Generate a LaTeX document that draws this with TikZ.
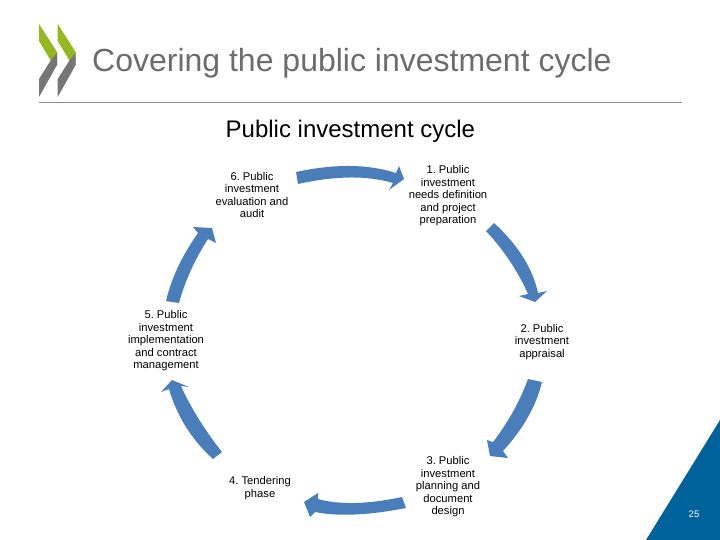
\documentclass[tikz,border=0pt]{standalone}
\usepackage{fontspec}
\usetikzlibrary{calc}
\setmainfont{Liberation Sans}
\frenchspacing
\definecolor{arrowblue}{HTML}{4A7EBB}
\definecolor{oecdgreen}{HTML}{94B81E}
\definecolor{oecdgray}{HTML}{767676}
\definecolor{titlegray}{HTML}{6C6C6C}
\definecolor{cornerblue}{HTML}{00629B}
\tikzset{
  cyclearrow/.style={fill=arrowblue,draw=none},
  stagelabel/.style={align=center,inner sep=0pt,text=black,font=\fontsize{11.2}{12.5}\selectfont},
  logogreen/.style={fill=oecdgreen,draw=none},
  logogray/.style={fill=oecdgray,draw=none}
}
\begin{document}
\begin{tikzpicture}[x=1pt,y=-1pt]
\useasboundingbox (0,0) rectangle (720,540);
% logo
\foreach \d in {0,18.7}{
  \fill[logogreen,shift={(\d,0)}] (39,24) -- (57,52) -- (57,65) -- (51,61) -- (39,41) -- cycle;
  \fill[logogray,shift={(\d,0)}] (57,53) -- (57,65) -- (39,97) -- (39,79) -- (51,60) -- cycle;
}
\draw[titlegray!80,line width=0.8pt] (39,102) -- (682,102);
\node[anchor=base west,inner sep=0pt,text=titlegray,font=\fontsize{32}{36}\selectfont] (title) at (92,71.5) {Covering the public investment cycle};
\node[anchor=base west,inner sep=0pt,text=black,font=\fontsize{24}{28}\selectfont] (subtitle) at (225.5,137.5) {Public investment cycle};
% stage labels
\node[stagelabel] (s1) at (448,196) {1. Public\\investment\\needs definition\\and project\\preparation};
\node[stagelabel] (s2) at (542,342) {2. Public\\investment\\appraisal};
\node[stagelabel] (s3) at (448,487) {3. Public\\investment\\planning and\\document\\design};
\node[stagelabel] (s4) at (260,488) {4. Tendering\\phase};
\node[stagelabel] (s5) at (166,341) {5. Public\\investment\\implementation\\and contract\\management};
\node[stagelabel] (s6) at (252,195) {6. Public\\investment\\evaluation and\\audit};
% block arrows (each edge a quadratic curve, as cubic controls)
\fill[cyclearrow] (296,172) .. controls ($(296,172)!2/3!(354,159.5)$) and ($(396,173)!2/3!(354,159.5)$) .. (396,173) -- (399,166) -- (404,179) -- (389,190) -- (393,183) .. controls ($(393,183)!2/3!(354.5,171.5)$) and ($(298,184)!2/3!(354.5,171.5)$) .. (298,184) -- cycle;
\fill[cyclearrow] (494,223) .. controls ($(494,223)!2/3!(530,256)$) and ($(538,293)!2/3!(530,256)$) .. (538,293) -- (547,291) -- (535,302) -- (519,296) -- (528,294) .. controls ($(528,294)!2/3!(513,260)$) and ($(486,231)!2/3!(513,260)$) .. (486,231) -- cycle;
\fill[cyclearrow] (542,382) .. controls ($(542,382)!2/3!(533.5,417.5)$) and ($(503,451)!2/3!(533.5,417.5)$) .. (503,451) -- (508,458) -- (490,456) -- (487,440) -- (493,442) .. controls ($(493,442)!2/3!(516,412)$) and ($(528,379)!2/3!(516,412)$) .. (528,379) -- cycle;
\fill[cyclearrow] (402,497) .. controls ($(402,497)!2/3!(350,508)$) and ($(318,499)!2/3!(350,508)$) .. (318,499) -- (318,493) -- (304,502) -- (310,517) -- (315,512) .. controls ($(315,512)!2/3!(349.5,519)$) and ($(406,508)!2/3!(349.5,519)$) .. (406,508) -- cycle;
\fill[cyclearrow] (213,459) .. controls ($(213,459)!2/3!(181,430)$) and ($(169,389)!2/3!(181,430)$) .. (169,389) -- (161,392) -- (172,380) -- (189,387) -- (181,386) .. controls ($(181,386)!2/3!(196,419)$) and ($(222,452)!2/3!(196,419)$) .. (222,452) -- cycle;
\fill[cyclearrow] (166,301) .. controls ($(166,301)!2/3!(174,267)$) and ($(198,233)!2/3!(174,267)$) .. (198,233) -- (193,227) -- (212,228) -- (216,243) -- (208,239) .. controls ($(208,239)!2/3!(188,270)$) and ($(179,303)!2/3!(188,270)$) .. (179,303) -- cycle;
% corner
\fill[cornerblue] (720,420) -- (720,540) -- (646,540) -- cycle;
\node[text=white,inner sep=0pt,font=\fontsize{9.5}{11}\selectfont] (page) at (694,514) {25};
\end{tikzpicture}
\end{document}
